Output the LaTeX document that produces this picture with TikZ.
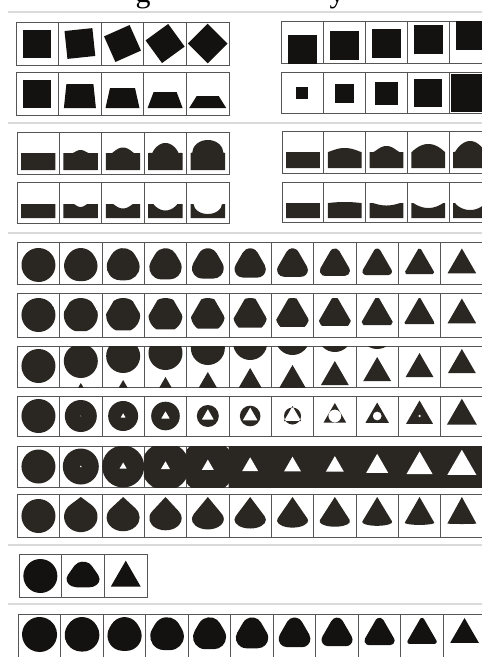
\documentclass[tikz,border=0pt]{standalone}
\usepackage{fontspec}
\setmainfont{Liberation Serif}
\definecolor{ink}{RGB}{42,38,34}
\definecolor{inkb}{RGB}{20,18,16}
\definecolor{gridc}{RGB}{85,85,85}
\definecolor{sepc}{RGB}{218,218,218}
\tikzset{gridl/.style={draw=gridc, line width=0.8pt}, sepline/.style={draw=sepc, line width=1.2pt}}
% row of cells: x0, width, n, ytop, ybot (image coords)
\newcommand\gridrow[5]{%
  \draw[gridl] (#1,-#4) rectangle ({#1+#2*#3},-#5);
  \foreach \k in {1,...,#3} {\draw[gridl] ({#1+#2*\k},-#4) -- ({#1+#2*\k},-#5);}
}
% rounded triangle: [colour] cx, cy, d (corner-centre distance), rho (corner radius), yscale
\newcommand\rtri[6][ink]{%
  \pgfmathsetmacro\RTd{#4}\pgfmathsetmacro\RTr{max(#5,0.01)}%
  \begin{scope}[shift={(#2,-#3)},yscale=#6]
  \fill[#1] ({\RTd*cos(90)+\RTr*cos(30)},{\RTd*sin(90)+\RTr*sin(30)}) arc[start angle=30,end angle=150,radius=\RTr]
    -- ({\RTd*cos(210)+\RTr*cos(150)},{\RTd*sin(210)+\RTr*sin(150)}) arc[start angle=150,end angle=270,radius=\RTr]
    -- ({\RTd*cos(330)+\RTr*cos(270)},{\RTd*sin(330)+\RTr*sin(270)}) arc[start angle=270,end angle=390,radius=\RTr] -- cycle;
  \end{scope}}
% triangle path: cx, cy, circumradius
\newcommand\tripath[3]{({#1+(#3)*cos(90)},{-(#2)+(#3)*sin(90)}) -- ({#1+(#3)*cos(210)},{-(#2)+(#3)*sin(210)}) -- ({#1+(#3)*cos(330)},{-(#2)+(#3)*sin(330)}) -- cycle}
% cone: [colour] cx, yc, a, b, D
\newcommand\cone[6][ink]{%
  \pgfmathsetmacro\CNphi{asin(min(1,(#5)/(#6)))}%
  \fill[#1] ({#2},{-(#3)+(#6)}) -- ({#2+(#4)*cos(180-\CNphi)},{-(#3)+(#5)*sin(180-\CNphi)})
    arc[start angle={180-\CNphi}, end angle={360+\CNphi}, x radius={#4}, y radius={#5}] -- cycle;}
% rectangle with bump/dip: [colour] x0, x1, top, bottom, h, w, exponent
\newcommand\bumprect[8][ink]{%
  \pgfmathsetmacro\BRc{(#2+#3)/2}%
  \fill[#1] (#2,-#5) -- (#2,-#4) -- plot[domain=-1:1,samples=41,variable=\uu] ({\BRc+\uu*(#7)/2},{-(#4)+(#6)*(max(1-\uu*\uu,0.001))^(#8)}) -- (#3,-#4) -- (#3,-#5) -- cycle;}
\begin{document}
\begin{tikzpicture}[x=1pt,y=1pt]
\useasboundingbox (0,0) rectangle (482,-657);
\clip (0,0) rectangle (482,-657);
\fill[white] (0,0) rectangle (482,-657);
% cut-off title
\node[anchor=base, font=\fontsize{30}{32}\selectfont, inner sep=0pt] (tg) at (143,-2.5) {g};
\node[anchor=base, font=\fontsize{30}{32}\selectfont, inner sep=0pt] (ty) at (337,-2.5) {y};
% faint separators
\foreach \yy in {12,123,233,545,604} \draw[sepline] (8,-\yy) -- (482,-\yy);
% grids
\gridrow{16}{42.6}{5}{22}{65}
\gridrow{16}{42.6}{5}{72}{115}
\gridrow{281}{42}{5}{21}{63}
\gridrow{281}{42}{5}{72}{113}
\gridrow{17}{42.4}{5}{132}{174}
\gridrow{17}{42.4}{5}{182}{223}
\gridrow{282}{41.8}{5}{131}{173}
\gridrow{282}{41.8}{5}{182}{222}
\gridrow{17.3}{42.34}{11}{242}{284}
\gridrow{17.3}{42.34}{11}{293}{337}
\gridrow{17.3}{42.34}{11}{346}{387}
\gridrow{17.3}{42.34}{11}{396}{436}
\gridrow{17.3}{42.34}{11}{446}{487}
\gridrow{17.3}{42.34}{11}{494}{537}
\gridrow{19}{42.7}{3}{554}{597}
\gridrow{18.3}{42.5}{11}{614}{658}
% section 1 left: rotating squares
\foreach \i/\ang in {0/0,1/6,2/24,3/36,4/45}{
  \pgfmathsetmacro\xc{16+42.6*(\i+0.5)}
  \fill[inkb, rotate around={\ang:(\xc,-43.5)}] ({\xc-14},-29.5) rectangle ({\xc+14},-57.5);
}
% section 1 left: trapezoids
\foreach \i/\hT/\hB/\yT in {0/14/14/80, 1/13.5/16/84, 2/12.5/17/88, 3/11.5/17.5/92, 4/11/18.5/96}{
  \pgfmathsetmacro\xc{16+42.6*(\i+0.5)}
  \fill[inkb] ({\xc-\hT},-\yT) -- ({\xc+\hT},-\yT) -- ({\xc+\hB},-108) -- ({\xc-\hB},-108) -- cycle;
}
% section 1 right: rising squares
\foreach \i/\yC in {0/49, 1/45.5, 2/43, 3/39.5, 4/35}{
  \pgfmathsetmacro\xL{281+42*\i}
  \begin{scope}\clip (\xL,-21) rectangle ({\xL+42},-63);
  \fill[inkb] ({\xL+21-14.5},{-\yC+14.5}) rectangle ({\xL+21+14.5},{-\yC-14.5});\end{scope}
}
% section 1 right: growing squares
\foreach \i/\sQ in {0/12.5, 1/19, 2/23, 3/28, 4/38}{
  \pgfmathsetmacro\xL{281+42*\i}
  \begin{scope}\clip (\xL,-72) rectangle ({\xL+42},-113);
  \fill[inkb] ({\xL+21-\sQ/2},{-93+\sQ/2}) rectangle ({\xL+21+\sQ/2},{-93-\sQ/2});\end{scope}
}
% section 2 left
\foreach \i/\bH/\bW/\bE in {0/0/10/1, 1/3/16/1.5, 2/5.5/22/1.2, 3/10/26/0.8, 4/13/31/0.5}{
  \pgfmathsetmacro\xL{17+42.4*\i}
  \bumprect{\xL+4}{\xL+38.4}{153}{170}{\bH}{\bW}{\bE}
}
\foreach \i/\bH/\bW/\bE in {0/0/10/1, 1/-3/14/1.5, 2/-4.5/20/1.2, 3/-6.5/24/0.9, 4/-10/28/0.5}{
  \pgfmathsetmacro\xL{17+42.4*\i}
  \bumprect{\xL+4}{\xL+38.4}{204}{218}{\bH}{\bW}{\bE}
}
% section 2 right
\foreach \i/\bH/\bW/\bE in {0/0/10/1, 1/4/33/1.2, 2/6/26/1.3, 3/8/33/1, 4/11/30/0.9}{
  \pgfmathsetmacro\xL{282+41.8*\i}
  \bumprect{\xL+4}{\xL+37.8}{152}{168}{\bH}{\bW}{\bE}
}
\foreach \i/\bH/\bW/\bE in {0/0/10/1, 1/1/32/1, 2/-2.5/28/1.2, 3/-5/30/1, 4/-7/30/0.8}{
  \pgfmathsetmacro\xL{282+41.8*\i}
  \bumprect{\xL+4}{\xL+37.8}{203}{218}{\bH}{\bW}{\bE}
}
% row A: rounded triangles
\foreach \i in {0,...,10}{
  \pgfmathsetmacro\tA{\i/10}
  \pgfmathsetmacro\xc{17.3+42.34*(\i+0.5)}
  \rtri{\xc}{265}{16.5*\tA}{17*(1-\tA)}{1}
}
% row B: circle cut by triangle
\foreach \i in {0,...,10}{
  \pgfmathsetmacro\tB{\i/10}
  \pgfmathsetmacro\xc{17.3+42.34*(\i+0.5)}
  \pgfmathsetmacro\RB{34-17.5*\tB}
  \begin{scope}\clip \tripath{\xc}{315}{\RB}; \fill[ink] (\xc,-315) circle[radius=17];\end{scope}
}
% row C: circle leaves, triangle enters
\foreach \i/\cc/\tp in {0/366/400,1/361/383,2/356/380,3/353/377,4/348/372,5/343/368,6/338/365,7/335/361,8/332/357,9/328.5/353,10/323/349}{
  \pgfmathsetmacro\xL{17.3+42.34*\i}
  \pgfmathsetmacro\xc{\xL+21.17}
  \begin{scope}
  \clip (\xL,-346) rectangle ({\xL+42.34},-387);
  \fill[ink] (\xc,-\cc) circle[radius=17];
  \fill[ink] (\xc,-\tp) -- ({\xc-14},{-\tp-24.2}) -- ({\xc+14},{-\tp-24.2}) -- cycle;
  \end{scope}
}
% row D: circle xor triangle
\foreach \i/\rc/\RT in {0/17/0.01, 1/16/0.9, 2/15/3, 3/14.3/5, 4/11/7, 5/10.3/8.7, 6/8.5/10, 7/6.5/13, 8/4.5/13.5, 9/1.5/15.5, 10/0.01/17.3}{
  \pgfmathsetmacro\xc{17.3+42.34*(\i+0.5)}
  \fill[ink,even odd rule] (\xc,-416) circle[radius=\rc] \tripath{\xc}{416}{\RT};
}
% row E: growing disc with white triangle
\foreach \i/\rc/\sd in {0/17/0, 1/18/1.8, 2/21/7, 3/24/9, 4/27/12, 5/30/16, 6/40/17, 7/40/18, 8/40/22, 9/40/26, 10/40/29}{
  \pgfmathsetmacro\xL{17.3+42.34*\i}
  \pgfmathsetmacro\xc{\xL+21.17}
  \pgfmathsetmacro\RT{max(\sd/sqrt(3),0.01)}
  \begin{scope}
  \clip ({\xL-0.4},-446) rectangle ({\xL+42.74},-487);
  \fill[ink] (\xc,-466.5) circle[radius=\rc];
  \fill[white] \tripath{\xc}{466.5}{\RT};
  \end{scope}
}
% row F: cones
\foreach \i in {0,...,10}{
  \pgfmathsetmacro\tF{\i/10}
  \pgfmathsetmacro\xc{17.3+42.34*(\i+0.5)}
  \pgfmathsetmacro\Fa{17-2.5*\tF}
  \pgfmathsetmacro\Fb{17-16.5*\tF}
  \pgfmathsetmacro\Fbot{533-9*\tF}
  \pgfmathsetmacro\Ftop{\i==0 ? 499 : 497}
  \pgfmathsetmacro\Fyc{\Fbot-\Fb}
  \pgfmathsetmacro\FD{\Fyc-\Ftop}
  \cone{\xc}{\Fyc}{\Fa}{\Fb}{\FD}
}
% row G: three cells
\fill[inkb] (40.35,-576) circle[radius=17];
\rtri[inkb]{83.05}{576}{7.5}{10}{0.82}
\rtri[inkb]{125.75}{578}{17.3}{0}{1}
% row H
\foreach \i in {0,...,10}{
  \pgfmathsetmacro\tH{(\i/10+0.0001)^1.3}
  \pgfmathsetmacro\xc{18.3+42.5*(\i+0.5)}
  \rtri[inkb]{\xc}{634.5}{16.5*\tH}{17.5*(1-\tH)}{1}
}
\end{tikzpicture}
\end{document}
